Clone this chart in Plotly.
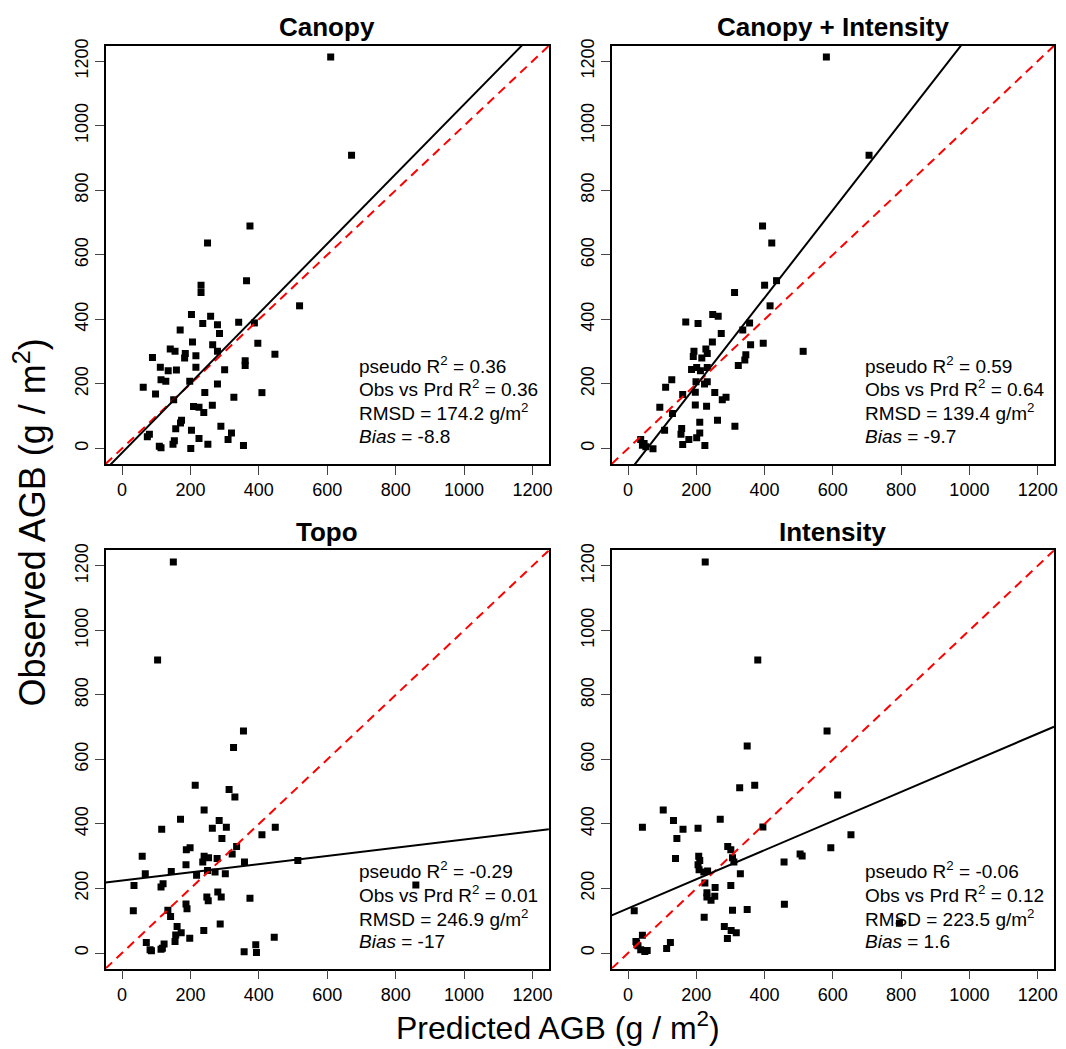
import plotly.graph_objects as go

# ---- Predicted vs observed AGB (g/m2) for four model variants ----
panel_titles = ["Canopy", "Canopy + Intensity", "Topo", "Intensity"]

canopy_pred = [610, 671, 374, 250, 231, 231, 364, 519, 203, 259, 236, 279, 341, 387, 170, 285,
               206, 265, 397, 141, 155, 185, 183, 216, 279, 447, 89, 112, 216, 135, 159, 300,
               360, 360, 114, 128, 198, 279, 62, 98, 242, 327, 409, 151, 209, 225, 264, 239,
               174, 171, 157, 289, 203, 80, 74, 320, 310, 225, 153, 149, 251, 355, 109, 114, 201]
canopy_obs = [1213, 909, 689, 637, 506, 483, 520, 442, 415, 410, 387, 383, 391, 389, 367, 356,
              330, 321, 326, 308, 301, 294, 280, 287, 301, 292, 282, 252, 252, 241, 243, 244,
              272, 257, 213, 208, 208, 200, 190, 169, 173, 159, 173, 151, 130, 128, 134, 111,
              87, 79, 61, 69, 56, 44, 36, 48, 28, 31, 24, 13, 13, 9, 7, 2, 0]

ci_pred = [581, 706, 394, 421, 400, 435, 312, 416, 248, 264, 169, 205, 356, 336, 273, 247,
           359, 396, 228, 232, 193, 191, 216, 513, 345, 342, 323, 186, 201, 232, 212, 199,
           232, 224, 128, 110, 160, 197, 254, 287, 276, 93, 130, 197, 230, 262, 210, 107,
           157, 155, 313, 178, 201, 210, 160, 225, 37, 42, 52, 73, 47]
ci_obs = [1213, 909, 689, 637, 506, 520, 483, 442, 415, 410, 392, 387, 389, 367, 356, 330,
          321, 326, 308, 294, 301, 285, 280, 301, 290, 274, 257, 245, 251, 251, 241, 207,
          207, 200, 213, 190, 167, 174, 173, 159, 151, 128, 108, 135, 131, 87, 81, 56,
          62, 44, 69, 28, 33, 48, 12, 9, 28, 10, 5, -1, 15]

topo_pred = [150, 104, 355, 326, 214, 313, 330, 240, 171, 116, 284, 264, 305, 448, 409, 292,
             335, 188, 199, 322, 59, 240, 253, 278, 236, 358, 187, 514, 250, 144, 272, 302,
             68, 218, 120, 114, 35, 859, 280, 248, 290, 252, 374, 187, 190, 134, 142, 33,
             287, 161, 239, 173, 157, 198, 155, 445, 71, 123, 114, 82, 86, 391, 357, 393, 118]
topo_obs = [1212, 908, 688, 637, 520, 507, 484, 443, 415, 384, 411, 387, 390, 390, 367, 355,
            330, 320, 326, 307, 300, 300, 295, 293, 282, 282, 274, 287, 256, 253, 251, 246,
            246, 241, 215, 205, 209, 211, 189, 174, 174, 162, 170, 152, 137, 133, 113, 131,
            90, 82, 70, 63, 56, 46, 36, 49, 33, 28, 12, 10, 7, 26, 4, 2, 15]

int_pred = [226, 380, 583, 349, 371, 327, 614, 103, 133, 270, 42, 161, 205, 395, 653, 143,
            292, 301, 594, 504, 510, 139, 207, 210, 306, 310, 457, 205, 208, 222, 233, 329,
            225, 301, 255, 231, 254, 243, 458, 18, 306, 349, 223, 282, 302, 317, 291, 795,
            42, 124, 113, 23, 29, 37, 49, 56, 25, 231]
int_obs = [1212, 908, 688, 642, 520, 512, 490, 443, 411, 415, 390, 384, 387, 391, 367, 355,
           330, 320, 326, 307, 301, 293, 300, 287, 295, 282, 282, 274, 258, 251, 254, 246,
           217, 209, 203, 174, 176, 164, 151, 131, 133, 135, 111, 82, 70, 63, 45, 92,
           55, 33, 14, 36, 23, 10, 5, 8, 31, 187]

pred_sets = [canopy_pred, ci_pred, topo_pred, int_pred]
obs_sets = [canopy_obs, ci_obs, topo_obs, int_obs]

# fitted obs ~ pred lines
fit_intercepts = [-13.6, -76.0, 225.0, 138.6]
fit_slopes = [1.08, 1.358, 0.127, 0.451]

# fit statistics
pseudo_r2 = ["0.36", "0.59", "-0.29", "-0.06"]
obs_prd_r2 = ["0.36", "0.64", "0.01", "0.12"]
rmsd = ["174.2", "139.4", "246.9", "223.5"]
bias = ["-8.8", "-9.7", "-17", "1.6"]

axis_lim = [-48, 1248]
tick_values = [0, 200, 400, 600, 800, 1000, 1200]
tick_labels = ["0", "200", "400", "600", "800", "1000", "1200"]

W, H = 1066, 1049
FONT = "Liberation Sans, Arial, sans-serif"


def px_x(p):
    return p / W


def px_y(p):
    return 1 - p / H


# plot-box positions (pixels: left, right, top, bottom)
boxes = [
    (106, 551, 39, 460),
    (614, 1058, 39, 460),
    (106, 551, 547, 968),
    (614, 1058, 547, 968),
]
title_y = [20, 20, 529, 529]
stat_x = [358, 866, 358, 866]
stat_top = [360, 360, 869, 869]
stat_step = 24

fig = go.Figure()
annotations = []

for i in range(4):
    xa = "x" if i == 0 else f"x{i + 1}"
    ya = "y" if i == 0 else f"y{i + 1}"

    fig.add_trace(go.Scatter(
        x=pred_sets[i], y=obs_sets[i], mode="markers",
        marker=dict(symbol="square", size=7, color="black", line=dict(width=0)),
        xaxis=xa, yaxis=ya, showlegend=False, hoverinfo="x+y"))

    # 1:1 reference line
    fig.add_trace(go.Scatter(
        x=axis_lim, y=axis_lim, mode="lines",
        line=dict(color="#ff0000", width=2, dash="9px,6px"),
        xaxis=xa, yaxis=ya, showlegend=False, hoverinfo="skip"))

    # fitted regression line
    fx = axis_lim
    fy = [fit_intercepts[i] + fit_slopes[i] * v for v in fx]
    fig.add_trace(go.Scatter(
        x=fx, y=fy, mode="lines", line=dict(color="black", width=2),
        xaxis=xa, yaxis=ya, showlegend=False, hoverinfo="skip"))

    l, r, t, b = boxes[i]
    axis_common = dict(
        range=axis_lim, tickmode="array", tickvals=tick_values, ticktext=tick_labels,
        ticks="outside", ticklen=9, tickwidth=1, tickcolor="#444",
        showline=True, linecolor="black", linewidth=1.5, mirror=True,
        showgrid=False, zeroline=False,
        tickfont=dict(family=FONT, size=18, color="black"),
    )
    fig.update_layout(**{
        ("xaxis" if i == 0 else f"xaxis{i + 1}"): dict(
            domain=[px_x(l), px_x(r)], anchor=ya, **axis_common),
        ("yaxis" if i == 0 else f"yaxis{i + 1}"): dict(
            domain=[px_y(b), px_y(t)], anchor=xa, tickangle=-90, **axis_common),
    })

    annotations.append(dict(
        text=f"<b>{panel_titles[i]}</b>", x=px_x((l + r) / 2), y=px_y(title_y[i]),
        xref="paper", yref="paper", xanchor="center", yanchor="middle",
        showarrow=False, font=dict(family=FONT, size=26, color="black")))

    stat_lines = [
        f"pseudo R<sup>2</sup> = {pseudo_r2[i]}",
        f"Obs vs Prd R<sup>2</sup> = {obs_prd_r2[i]}",
        f"RMSD = {rmsd[i]} g/m<sup>2</sup>",
        f"<i>Bias</i> = {bias[i]}",
    ]
    for k, s in enumerate(stat_lines):
        annotations.append(dict(
            text=s, x=px_x(stat_x[i]), y=px_y(stat_top[i] + k * stat_step),
            xref="paper", yref="paper", xanchor="left", yanchor="middle",
            showarrow=False, font=dict(family=FONT, size=19, color="black")))

annotations.append(dict(
    text="Predicted AGB (g / m<sup>2</sup>)", x=px_x(560), y=px_y(1026),
    xref="paper", yref="paper", xanchor="center", yanchor="middle",
    showarrow=False, font=dict(family=FONT, size=32, color="black")))
annotations.append(dict(
    text="Observed AGB (g / m<sup>2</sup>)", x=px_x(30), y=px_y(519),
    xref="paper", yref="paper", xanchor="center", yanchor="middle", textangle=-90,
    showarrow=False, font=dict(family=FONT, size=36, color="black")))

fig.update_layout(
    width=W, height=H, margin=dict(l=0, r=0, t=0, b=0),
    paper_bgcolor="white", plot_bgcolor="white",
    annotations=annotations, showlegend=False,
)

fig.write_html("out.html")
